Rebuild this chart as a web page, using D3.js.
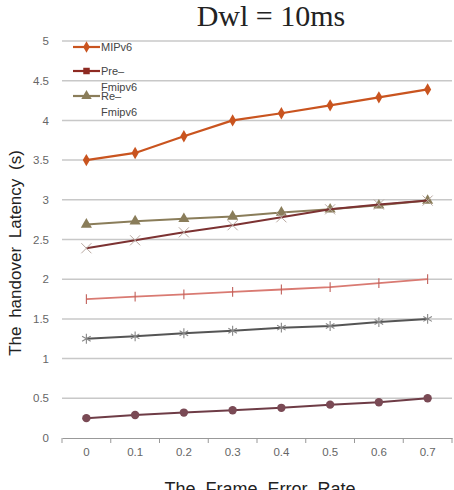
<!DOCTYPE html>
<html>
<head>
<meta charset="utf-8">
<script src="https://cdn.jsdelivr.net/npm/d3@7"></script>
<style>
  body { margin: 0; background: #fff; }
  svg { display: block; font-family: "Liberation Sans", Arial, sans-serif; }
</style>
</head>
<body>
<svg id="chart" width="454" height="490"></svg>
<script>
// data
const frameErrorRates = ["0", "0.1", "0.2", "0.3", "0.4", "0.5", "0.6", "0.7"];
const yTicks = [0, 0.5, 1, 1.5, 2, 2.5, 3, 3.5, 4, 4.5, 5];

const mipv6 = [3.5, 3.59, 3.8, 4.0, 4.09, 4.19, 4.29, 4.39];
const preFmipv6 = [2.39, 2.49, 2.59, 2.68, 2.78, 2.88, 2.94, 2.99];
const reFmipv6 = [2.69, 2.73, 2.76, 2.79, 2.84, 2.88, 2.93, 2.99];
const series4 = [1.75, 1.78, 1.81, 1.84, 1.87, 1.9, 1.95, 2.0];
const series5 = [1.25, 1.28, 1.32, 1.35, 1.39, 1.41, 1.46, 1.5];
const series6 = [0.25, 0.29, 0.32, 0.35, 0.38, 0.42, 0.45, 0.5];

const series = [
  {name: "MIPv6", values: mipv6, color: "#c9541f", mark: "diamond", markColor: "#c9541f", legend: true, width: 2.2},
  {name: "Pre-Fmipv6", values: preFmipv6, color: "#7c3232", mark: "x", markColor: "#b8a8a0", legend: true, legendMark: "square", legendColor: "#8e2a22", width: 2},
  {name: "Re-Fmipv6", values: reFmipv6, color: "#8a7d5a", mark: "triangle", markColor: "#8a7d5a", legend: true, width: 2},
  {name: "s4", values: series4, color: "#d97a72", mark: "plus", markColor: "#c0605a", legend: false, width: 1.8},
  {name: "s5", values: series5, color: "#555555", mark: "asterisk", markColor: "#888888", legend: false, width: 2},
  {name: "s6", values: series6, color: "#6e3c46", mark: "circle", markColor: "#7a4a55", legend: false, width: 2}
];

const svg = d3.select("#chart");
const plot = {left: 62, right: 452, top: 41, bottom: 438};

const x = d3.scaleBand().domain(frameErrorRates).range([plot.left, plot.right]);
const y = d3.scaleLinear().domain([0, 5]).range([plot.bottom, plot.top]);
const cx = d => x(d) + x.bandwidth() / 2;

// title
svg.append("text")
   .attr("x", 271).attr("y", 26)
   .attr("text-anchor", "middle")
   .style("font-family", "'Liberation Serif', 'Times New Roman', serif")
   .style("font-size", "30px")
   .style("fill", "#222")
   .text("Dwl = 10ms");

// gridlines
svg.append("g")
   .selectAll("line")
   .data(yTicks.filter(t => t > 0))
   .join("line")
   .attr("x1", plot.left).attr("x2", plot.right)
   .attr("y1", d => y(d)).attr("y2", d => y(d))
   .attr("stroke", "#c8c8c8")
   .attr("stroke-width", 1.5);

// y axis labels
const yAxis = svg.append("g")
   .attr("transform", "translate(" + plot.left + ",0)")
   .call(d3.axisLeft(y).tickValues(yTicks).tickSize(0).tickPadding(13).tickFormat(d3.format("")));
yAxis.select(".domain").remove();
yAxis.selectAll("text").style("font-size", "11.5px").style("fill", "#666");

// x axis
const xAxis = svg.append("g")
   .attr("transform", "translate(0," + plot.bottom + ")")
   .call(d3.axisBottom(x).tickSize(0).tickPadding(10));
xAxis.select(".domain").attr("stroke", "#999").attr("stroke-width", 1.2);
xAxis.selectAll("text").style("font-size", "11.5px").style("fill", "#666");
xAxis.selectAll(".bound")
   .data(frameErrorRates.concat(["end"]))
   .join("line")
   .attr("class", "bound")
   .attr("x1", (d, i) => plot.left + i * x.bandwidth())
   .attr("x2", (d, i) => plot.left + i * x.bandwidth())
   .attr("y1", 0).attr("y2", 5)
   .attr("stroke", "#999");

// axis titles
svg.append("text")
   .attr("x", 260).attr("y", 495)
   .attr("text-anchor", "middle")
   .style("font-size", "18px")
   .style("fill", "#222")
   .style("word-spacing", "5px")
   .text("The Frame Error Rate");

svg.append("text")
   .attr("transform", "translate(21,253) rotate(-90)")
   .attr("text-anchor", "middle")
   .style("font-size", "17px")
   .style("fill", "#222")
   .style("word-spacing", "4px")
   .text("The handover Latency (s)");

function drawMark(g, type, color, s) {
  if (type === "diamond") {
    g.append("path").attr("d", d3.symbol(d3.symbolDiamond, s * s * 0.9)()).attr("fill", color);
  } else if (type === "square") {
    g.append("path").attr("d", d3.symbol(d3.symbolSquare, s * s * 1.0)()).attr("fill", color);
  } else if (type === "triangle") {
    g.append("path").attr("d", d3.symbol(d3.symbolTriangle, s * s * 1.1)()).attr("fill", color);
  } else if (type === "circle") {
    g.append("circle").attr("r", s * 0.6).attr("fill", color);
  } else if (type === "x") {
    g.append("path").attr("d", d3.symbol(d3.symbolX, s * s * 1.4)()).attr("fill", "none").attr("stroke", color).attr("stroke-width", 1);
  } else if (type === "plus") {
    g.append("path").attr("d", "M0," + (-s * 0.7) + "V" + (s * 0.7)).attr("stroke", color).attr("stroke-width", 1.1);
  } else if (type === "asterisk") {
    g.append("path").attr("d", d3.symbol(d3.symbolAsterisk, s * s * 1.4)()).attr("fill", "none").attr("stroke", color).attr("stroke-width", 1.1);
  }
}

// lines
const line = d3.line()
   .x((d, i) => cx(frameErrorRates[i]))
   .y(d => y(d));

const drawOrder = [5, 4, 3, 2, 1, 0];
drawOrder.forEach(k => {
  const s = series[k];
  svg.append("path")
     .datum(s.values)
     .attr("fill", "none")
     .attr("stroke", s.color)
     .attr("stroke-width", s.width)
     .attr("stroke-linejoin", "round")
     .attr("d", line);
  s.values.forEach((v, i) => {
    const g = svg.append("g").attr("transform", "translate(" + cx(frameErrorRates[i]) + "," + y(v) + ")");
    drawMark(g, s.mark, s.markColor, 7);
  });
});

// legend
const legendRows = [
  {label: ["MIPv6"], y: 47},
  {label: ["Pre\u2013", "Fmipv6"], y: 71},
  {label: ["Re\u2013", "Fmipv6"], y: 96}
];
series.filter(s => s.legend).forEach((s, i) => {
  const row = legendRows[i];
  const col = s.legendColor || s.color;
  svg.append("line")
     .attr("x1", 73).attr("x2", 100)
     .attr("y1", row.y).attr("y2", row.y)
     .attr("stroke", col).attr("stroke-width", 2.2);
  const g = svg.append("g").attr("transform", "translate(86.5," + row.y + ")");
  drawMark(g, s.legendMark || s.mark, col, 6.5);
  const t = svg.append("text")
     .attr("x", 101).attr("y", row.y + 4)
     .style("font-size", "11px")
     .style("fill", "#444");
  row.label.forEach((l, j) => {
    t.append("tspan").attr("x", 101).attr("dy", j === 0 ? 0 : 16).text(l);
  });
});
</script>
</body>
</html>
